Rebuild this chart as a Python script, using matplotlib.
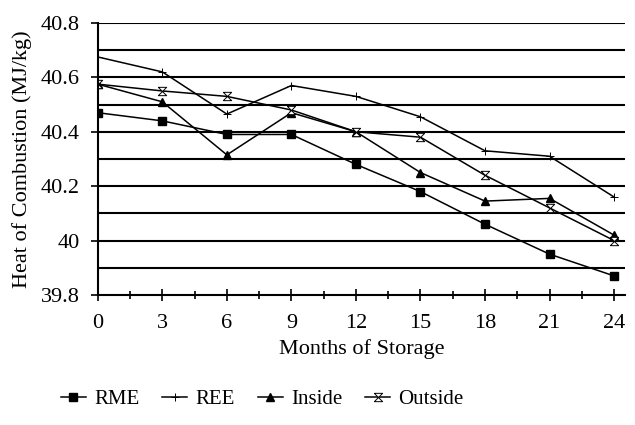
import matplotlib.pyplot as plt
import numpy as np

months = [0, 3, 6, 9, 12, 15, 18, 21, 24]
rme = [40.47, 40.44, 40.39, 40.39, 40.28, 40.18, 40.06, 39.95, 39.87]
ree = [40.675, 40.62, 40.465, 40.57, 40.53, 40.455, 40.33, 40.31, 40.16]
inside = [40.575, 40.51, 40.315, 40.47, 40.40, 40.25, 40.145, 40.155, 40.02]
outside = [40.575, 40.55, 40.53, 40.48, 40.40, 40.38, 40.24, 40.12, 40.0]

plt.rcParams['font.family'] = ['Liberation Serif', 'DejaVu Serif']

# hourglass marker for "Outside"
hourglass = [(-1, 1), (1, 1), (-1, -1), (1, -1), (-1, 1)]

fig = plt.figure(figsize=(6.35, 4.25), dpi=100)
ax = fig.add_axes([0.154, 0.306, 0.83, 0.64])

ax.plot(months, rme, color='black', lw=1.1, marker='s', ms=5.5, label='RME')
ax.plot(months, ree, color='black', lw=1.1, marker='+', ms=6, mew=0.7, label='REE')
ax.plot(months, inside, color='black', lw=1.1, marker='^', ms=6, label='Inside')
ax.plot(months, outside, color='black', lw=1.1, marker=hourglass, ms=6,
        mfc='white', mec='black', mew=0.7, label='Outside')

ax.set_xlim(0, 24.5)
ax.set_ylim(39.8, 40.8)
ax.set_yticks([39.8, 40, 40.2, 40.4, 40.6, 40.8])
ax.set_yticklabels(['39.8', '40', '40.2', '40.4', '40.6', '40.8'])
ax.set_xticks(months)
ax.set_xticks(np.arange(1.5, 24, 3), minor=True)

for yv in np.arange(39.9, 40.81, 0.1):
    ax.axhline(yv, color='black', lw=1.5, zorder=0)

ax.spines['right'].set_visible(False)
ax.spines['top'].set_visible(False)
ax.spines['left'].set_linewidth(1.5)
ax.spines['bottom'].set_linewidth(1.5)
ax.tick_params(axis='x', which='both', direction='inout', length=8, width=1.2,
               labelsize=16, pad=10)
ax.tick_params(axis='x', which='minor', length=6)
ax.tick_params(axis='y', direction='out', length=5, width=1.2, labelsize=16, pad=8)

ax.set_xlabel('Months of Storage', fontsize=16, labelpad=4)
ax.set_ylabel('Heat of Combustion (MJ/kg)', fontsize=16, labelpad=6)

fig.legend(loc='center', bbox_to_anchor=(0.413, 0.06), ncol=4, frameon=False,
           fontsize=15, handlelength=1.2, columnspacing=1.1, handletextpad=0.4)

fig.savefig('out.png', dpi=100)
